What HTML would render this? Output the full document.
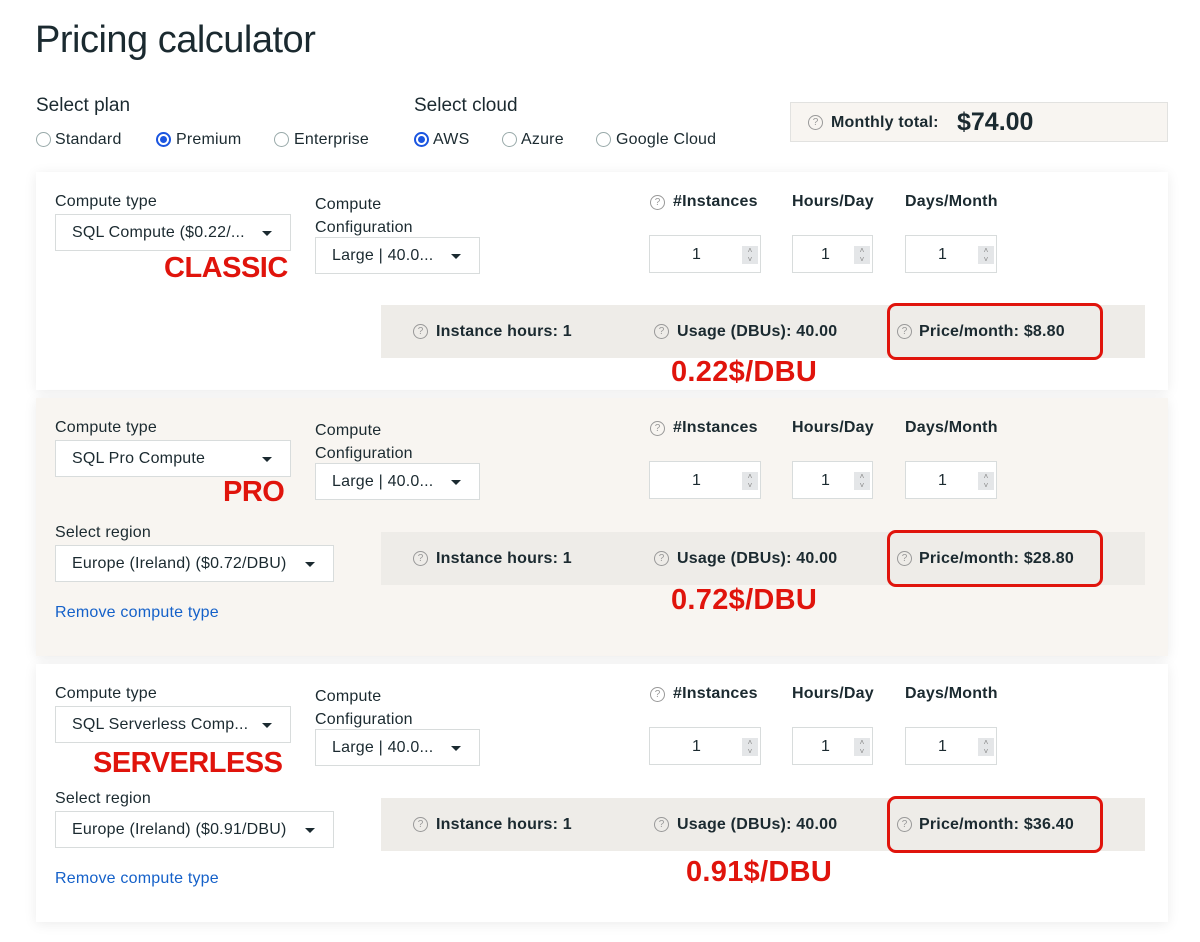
<!DOCTYPE html>
<html><head><meta charset="utf-8">
<style>
*{box-sizing:border-box;margin:0;padding:0}
body{width:1200px;height:942px;background:#fff;font-family:"Liberation Sans","DejaVu Sans",sans-serif;color:#1b2a30;position:relative;overflow:hidden}
.a{position:absolute;white-space:nowrap}
.t{font-size:16px;line-height:18px;letter-spacing:0.2px}
.b{font-weight:bold}
.radio{position:absolute;width:15px;height:15px;border:1px solid #9aa;border-radius:50%;background:#fff}
.radio.on{border:2px solid #1a55e0}
.radio.on::after{content:"";position:absolute;left:2px;top:2px;width:7px;height:7px;border-radius:50%;background:#1a55e0}
.panel{position:absolute;left:36px;width:1132px;box-shadow:0 2px 12px rgba(0,0,0,0.08)}
.sel{position:absolute;border:1px solid #d8dcdc;background:#fff;height:37px}
.sel span{position:absolute;left:16px;top:9px;font-size:16px;letter-spacing:0.2px}
.sel i{position:absolute;right:18px;top:16px;width:0;height:0;border-left:5px solid transparent;border-right:5px solid transparent;border-top:5px solid #1b2a30}
.inp{position:absolute;border:1px solid #d8dcdc;background:#fff;height:38px}
.inp span{position:absolute;top:10px;font-size:16px}
.inp em{position:absolute;right:2px;top:10px;width:16px;height:18px;background:#e4e6e8;font-style:normal;font-size:8px;color:#888;text-align:center;line-height:9px}
.help{position:absolute;width:15px;height:15px;border:1.3px solid #999;border-radius:50%;font-size:10px;line-height:13px;text-align:center;color:#999;font-weight:normal}
.bar{position:absolute;left:345px;width:764px;height:53px;background:#eeece8}
.red{position:absolute;color:#e0140c;font-weight:bold;font-size:29px;line-height:30px;letter-spacing:-0.5px}
.rbox{position:absolute;border:3px solid #e0140c;border-radius:9px}
.link{color:#1561c9}
</style></head><body>
<div class="a" style="left:35px;top:18px;font-size:38px;line-height:44px;letter-spacing:-0.5px">Pricing calculator</div>

<div class="a" style="left:36px;top:95px;font-size:19px">Select plan</div>
<div class="radio" style="left:36px;top:132px"></div>
<div class="a t" style="left:55px;top:131px">Standard</div>
<div class="radio on" style="left:156px;top:132px"></div>
<div class="a t" style="left:176px;top:131px">Premium</div>
<div class="radio" style="left:274px;top:132px"></div>
<div class="a t" style="left:294px;top:131px">Enterprise</div>

<div class="a" style="left:414px;top:95px;font-size:19px">Select cloud</div>
<div class="radio on" style="left:414px;top:132px"></div>
<div class="a t" style="left:433px;top:131px">AWS</div>
<div class="radio" style="left:502px;top:132px"></div>
<div class="a t" style="left:521px;top:131px">Azure</div>
<div class="radio" style="left:596px;top:132px"></div>
<div class="a t" style="left:616px;top:131px">Google Cloud</div>

<div class="a" style="left:790px;top:102px;width:378px;height:40px;background:#f8f5f1;border:1px solid #e2e2e0">
  <div class="help" style="left:17px;top:12px">?</div>
  <div class="a t b" style="left:40px;top:11px">Monthly total:</div>
  <div class="a b" style="left:166px;top:5px;font-size:25px;line-height:28px">$74.00</div>
</div>

<div id="panels"></div>

<script>
const panels = [
  {top:172,h:218,bg:'#fff',type:'SQL Compute ($0.22/...',region:null,price:'$8.80',tag:'CLASSIC',tagX:164,rate:'0.22$/DBU',rateX:671,rateOff:186,barOff:133},
  {top:398,h:258,bg:'#f8f5f1',type:'SQL Pro Compute',region:'Europe (Ireland) ($0.72/DBU)',price:'$28.80',tag:'PRO',tagX:223,rate:'0.72$/DBU',rateX:671,rateOff:188,barOff:134},
  {top:664,h:258,bg:'#fff',type:'SQL Serverless Comp...',region:'Europe (Ireland) ($0.91/DBU)',price:'$36.40',tag:'SERVERLESS',tagX:93,rate:'0.91$/DBU',rateX:686,rateOff:194,barOff:134}
];
let html='';
panels.forEach((p,i)=>{
  const n=i+1;
  html+=`<div class="panel" style="top:${p.top}px;height:${p.h}px;background:${p.bg}">
  <div class="a t" style="left:19px;top:21px">Compute type</div>
  <div class="sel" style="left:19px;top:42px;width:236px"><span>${p.type}</span><i></i></div>
  <div class="a t" style="left:279px;top:21px;line-height:23px">Compute<br>Configuration</div>
  <div class="sel" style="left:279px;top:65px;width:165px"><span>Large | 40.0...</span><i></i></div>
  <div class="help" style="left:614px;top:23px">?</div>
  <div class="a t b" style="left:637px;top:21px">#Instances</div>
  <div class="a t b" style="left:756px;top:21px">Hours/Day</div>
  <div class="a t b" style="left:869px;top:21px">Days/Month</div>
  <div class="inp" style="left:613px;top:63px;width:112px"><span style="left:42px">1</span><em>˄<br>˅</em></div>
  <div class="inp" style="left:756px;top:63px;width:81px"><span style="left:28px">1</span><em>˄<br>˅</em></div>
  <div class="inp" style="left:869px;top:63px;width:92px"><span style="left:32px">1</span><em>˄<br>˅</em></div>
  ${p.region?`<div class="a t" style="left:19px;top:126px">Select region</div>
  <div class="sel" style="left:19px;top:147px;width:279px"><span>${p.region}</span><i></i></div>
  <div class="a t link" style="left:19px;top:206px">Remove compute type</div>`:''}
  <div class="bar" style="top:${p.barOff}px">
    <div class="help" style="left:32px;top:19px">?</div>
    <div class="a t b" style="left:55px;top:18px">Instance hours: 1</div>
    <div class="help" style="left:273px;top:19px">?</div>
    <div class="a t b" style="left:296px;top:18px">Usage (DBUs): 40.00</div>
    <div class="help" style="left:516px;top:19px">?</div>
    <div class="a t b" style="left:538px;top:18px">Price/month: ${p.price}</div>
  </div>
  <div class="rbox" style="left:851px;top:${p.barOff-2}px;width:216px;height:57px"></div>
  <div class="red a" style="left:${p.tagX-36}px;top:${i==0?81:i==1?79:84}px">${p.tag}</div>
  <div class="red a" style="left:${p.rateX-36}px;top:${p.rateOff-1}px;letter-spacing:0.3px">${p.rate}</div>
  </div>`;
});
document.getElementById('panels').innerHTML=html;
</script>
</body></html>
